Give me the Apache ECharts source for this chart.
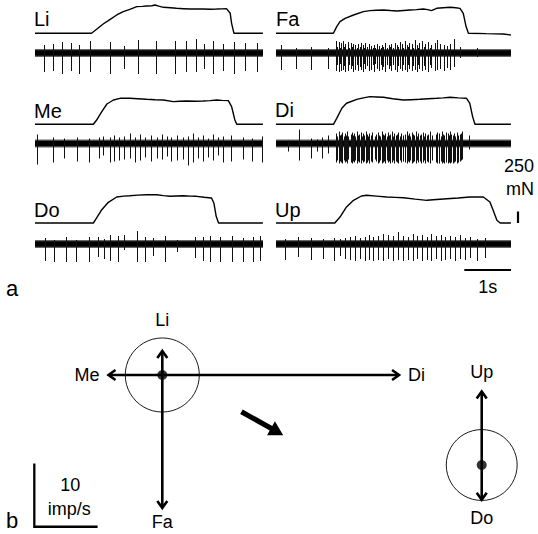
<!DOCTYPE html>
<html><head><meta charset="utf-8">
<script src="https://cdn.jsdelivr.net/npm/echarts/dist/echarts.min.js"></script>
<style>html,body{margin:0;padding:0;background:#fff}#c{width:538px;height:534px}</style>
</head><body><div id="c"></div>
<script>
// ---------------- DATA ----------------
const traceNames = ['Li', 'Fa', 'Me', 'Di', 'Do', 'Up'];
// force traces: [time (s), force (mN)]
const forceLi = [[0,0],[1.21,0],[1.32,87],[1.46,202],[1.61,304],[1.75,398],[1.89,472],[2.03,522],[2.18,580],[2.30,585],[2.39,593],[2.50,600],[2.57,615],[2.65,590],[2.75,565],[2.90,555],[3.03,543],[3.18,535],[3.32,528],[3.46,532],[3.60,528],[3.75,524],[3.89,528],[4.00,532],[4.10,537],[4.18,435],[4.21,217],[4.26,0],[4.88,0]];
const forceFa = [[0,0],[1.23,0],[1.30,146],[1.37,254],[1.48,326],[1.66,398],[1.87,472],[2.01,493],[2.15,500],[2.30,507],[2.45,495],[2.59,485],[2.73,497],[2.87,507],[3.01,515],[3.15,528],[3.25,515],[3.33,493],[3.44,543],[3.58,555],[3.73,565],[3.85,555],[3.94,543],[4.01,435],[4.07,146],[4.12,0],[4.50,-8],[4.87,-15],[5.03,-37]];
const forceMe = [[0,0],[1.25,0],[1.32,93],[1.43,276],[1.54,441],[1.68,528],[1.82,565],[2.03,565],[2.20,555],[2.39,543],[2.57,535],[2.75,528],[2.96,493],[3.10,500],[3.25,507],[3.43,500],[3.60,507],[3.75,515],[3.89,528],[4.00,520],[4.14,515],[4.21,385],[4.28,93],[4.32,0],[4.88,0]];
const forceDi = [[0,0],[1.23,0],[1.30,130],[1.41,348],[1.51,457],[1.73,543],[1.87,575],[2.01,602],[2.15,595],[2.30,587],[2.50,555],[2.73,528],[2.90,535],[3.08,543],[3.26,555],[3.44,565],[3.58,575],[3.73,587],[3.90,575],[4.08,565],[4.15,457],[4.21,167],[4.26,0],[5.03,0]];
const forceDo = [[0,0],[1.25,0],[1.32,109],[1.43,289],[1.57,450],[1.75,565],[1.90,585],[2.03,593],[2.20,605],[2.39,615],[2.61,615],[2.75,595],[2.89,580],[3.03,588],[3.18,593],[3.32,585],[3.46,580],[3.62,560],[3.78,543],[3.83,435],[3.88,146],[3.93,0],[4.88,0]];
const forceUp = [[0,0],[1.26,0],[1.37,130],[1.51,348],[1.66,493],[1.83,587],[1.94,602],[2.15,585],[2.37,565],[2.55,558],[2.73,550],[2.98,520],[3.23,493],[3.44,510],[3.66,528],[3.90,545],[4.15,565],[4.30,568],[4.44,565],[4.58,457],[4.65,276],[4.73,59],[4.80,0],[5.03,0]];

// spike trains: [time (s), upward amplitude, downward amplitude] (a.u.)
const spikesLi = [[0.193,8,19],[0.379,9,18],[0.585,11,21],[0.764,10,18],[0.949,8,21],[1.178,12,19],[1.606,11,21],[1.912,7,16],[2.212,13,21],[2.591,12,21],[2.998,12,21],[3.233,12,19],[3.441,14,19],[3.619,9,16],[3.818,12,21],[4.019,9,18],[4.261,11,21],[4.497,10,18],[4.747,10,19]];
const spikesFa = [[0.114,8,17],[0.428,5,16],[0.756,6,17],[1.113,5,16],
 [1.285,12,18],[1.31,6,12],[1.342,11,19],[1.37,5,11],[1.392,10,18],[1.435,12,17],[1.46,6,13],[1.485,9,19],[1.542,11,18],[1.57,5,12],[1.599,10,16],[1.63,6,13],[1.649,9,19],[1.699,8,17],[1.73,5,12],[1.756,9,18],[1.79,6,14],[1.813,10,17],[1.863,8,19],[1.89,5,11],[1.913,10,16],[1.95,6,13],[1.984,9,18],[2.041,7,17],[2.07,5,12],[2.091,8,19],[2.13,5,11],[2.163,9,16],[2.213,7,18],[2.24,5,12],[2.270,8,17],[2.30,6,14],[2.341,10,19],[2.38,5,12],[2.413,8,16],[2.44,6,13],[2.470,9,18],[2.51,5,12],[2.541,10,17],[2.591,8,19],[2.62,6,13],[2.648,11,16],[2.698,9,18],[2.73,5,12],[2.755,12,17],[2.805,8,19],[2.83,6,12],[2.855,10,16],[2.912,9,18],[2.94,5,13],[2.970,13,17],[3.019,8,19],[3.04,5,12],[3.069,10,16],[3.126,12,18],[3.16,6,13],[3.198,9,17],[3.255,11,19],[3.29,5,12],[3.326,8,15],[3.398,10,18],[3.448,13,17],[3.519,9,16],[3.590,8,18],[3.662,7,15],[3.733,9,17],[3.804,14,14],
 [3.95,6,5],[4.30,5,4]];
const spikesMe = [[0.050,9,21],[0.378,6,19],[0.621,5,15],[0.892,6,18],[1.163,5,19],[1.378,6,15],[1.449,7,12],[1.606,6,19],[1.692,8,18],[1.806,6,17],[1.913,7,16],[2.034,10,15],[2.141,6,19],[2.248,9,17],[2.355,6,14],[2.484,8,18],[2.605,6,15],[2.712,9,16],[2.819,7,13],[2.912,6,18],[3.034,8,17],[3.162,6,16],[3.269,7,22],[3.390,10,19],[3.497,6,15],[3.605,8,18],[3.712,5,14],[3.804,9,17],[3.926,6,12],[4.033,7,19],[4.197,8,18],[4.461,6,16],[4.640,5,18],[4.860,7,19]];
const spikesDi = [[0.257,3,8],[0.485,14,17],[0.757,5,15],[0.878,4,8],[0.985,6,15],[1.113,8,10],
 [1.29,10,19],[1.31,7,17],[1.34,12,20],[1.37,8,18],[1.39,9,19],[1.42,11,20],[1.45,7,17],[1.47,10,19],[1.50,8,18],[1.53,12,20],[1.55,7,16],
 [1.60,9,19],[1.62,11,20],[1.65,8,18],[1.68,10,19],[1.70,7,17],[1.73,12,20],[1.76,8,18],[1.78,9,19],[1.81,11,20],[1.84,7,17],[1.86,10,19],[1.89,8,18],[1.92,12,20],[1.95,9,19],[1.97,7,17],[2.00,10,20],[2.03,8,18],[2.06,11,19],
 [2.11,7,16],[2.15,9,18],[2.18,11,20],[2.21,8,19],[2.23,7,17],[2.26,12,20],[2.29,9,19],[2.31,8,18],[2.34,10,20],[2.37,7,17],[2.40,11,19],[2.42,8,18],[2.45,9,20],[2.48,12,19],[2.51,7,17],[2.53,10,20],[2.56,8,18],[2.59,9,19],[2.62,11,20],[2.65,7,17],[2.68,10,19],[2.71,8,18],
 [2.77,9,19],[2.80,12,20],[2.82,8,18],[2.85,10,19],[2.88,7,17],[2.91,11,20],[2.93,9,19],[2.96,8,18],[2.99,12,20],[3.02,7,17],[3.05,10,19],[3.08,8,18],[3.11,9,20],[3.14,11,19],[3.17,7,17],[3.20,10,20],[3.23,8,18],[3.26,9,19],[3.29,12,20],[3.33,8,17],
 [3.42,9,19],[3.45,11,20],[3.48,8,19],[3.50,10,20],[3.53,7,18],[3.55,12,20],[3.58,9,19],[3.60,8,20],[3.63,11,19],[3.65,7,18],[3.68,10,20],[3.70,8,19],[3.73,12,20],[3.75,9,19],[3.78,8,20],[3.81,10,19],[3.84,7,18],[3.87,11,20],[3.90,8,19],[3.93,9,18],[3.96,10,17],[3.98,12,16],
 [4.126,8,6]];
const spikesDo = [[0.214,6,17],[0.407,4,18],[0.664,7,18],[0.878,4,18],[1.163,7,18],[1.356,7,13],[1.478,5,15],[1.606,9,17],[1.770,8,18],[1.913,9,6],[2.177,13,18],[2.355,7,18],[2.520,6,12],[2.784,8,18],[3.034,4,8],[3.426,7,14],[3.605,7,17],[3.747,8,18],[3.961,7,18],[4.211,8,18],[4.447,6,18],[4.661,7,18],[4.818,8,17]];
const spikesUp = [[0.193,5,16],[0.478,7,13],[0.749,6,16],[1.013,5,15],[1.242,6,17],[1.370,5,12],[1.478,6,15],[1.585,7,16],[1.692,8,17],[1.799,6,15],[1.906,7,17],[1.998,9,16],[2.084,7,17],[2.191,8,16],[2.298,10,17],[2.405,9,15],[2.512,8,17],[2.619,12,16],[2.713,8,17],[2.820,7,16],[2.927,10,17],[3.013,8,15],[3.120,9,17],[3.227,7,16],[3.319,10,17],[3.426,8,15],[3.528,9,17],[3.619,7,16],[3.726,8,15],[3.833,7,17],[3.940,9,15],[4.047,6,16],[4.154,7,14],[4.297,5,17],[4.475,6,14]];
const noiseAmp = 2.8;            // half-width of background noise band (a.u.)

// panel b: discharge rate (imp/s) per force direction
const dirNamesA = ['Li', 'Me', 'Di', 'Fa'];
const dirRatesA = [3.8, 8.5, 37.4, 21.0];
const dirAnglesA = [90, 180, 0, 270];
const bgRateA = 5.85;
const dirNamesB = ['Up', 'Do'];
const dirRatesB = [11.6, 5.5];
const dirAnglesB = [90, 270];
const bgRateB = 5.6;
const resultantArrow = [12.5, -5.8, 19.1, -9.5];  // direction indicator (imp/s units)

// scale bars
const scaleForce = 250;   // mN
const scaleTime = 1;      // s
const scaleRate = 10;     // imp/s

// ---------------- LAYOUT ----------------
const FONT = '"Liberation Sans", Arial, Helvetica, sans-serif';
const PX_PER_S = 46.7, PX_PER_MN = 0.046;
const cols = [{x0: 35, w: 228}, {x0: 276, w: 235}];
const rows = [{fb: 33.3, sc: 53}, {fb: 124.3, sc: 143.5}, {fb: 223, sc: 244}];
const FMIN = -50, FMAX = 650, SMIN = -24, SMAX = 16;
const forces = [forceLi, forceFa, forceMe, forceDi, forceDo, forceUp];
const spikes = [spikesLi, spikesFa, spikesMe, spikesDi, spikesDo, spikesUp];
const labelPos = [[34, 19], [276, 19], [34, 110.5], [275, 110], [34, 209.5], [275, 209.5]];

function txt(text, x, y, size, align) {
  return {text: text, x: x, y: y, font: size + 'px ' + FONT, fill: '#000',
    textAlign: align, textVerticalAlign: 'middle', align: align, verticalAlign: 'middle'};
}

const grid = [], xAxis = [], yAxis = [], series = [], graphic = [];

for (let i = 0; i < 6; i++) {
  const r = Math.floor(i / 2), c = i % 2;
  const col = cols[c], row = rows[r];
  const tmax = col.w / PX_PER_S;
  grid.push({left: col.x0, top: row.fb - FMAX * PX_PER_MN, width: col.w, height: (FMAX - FMIN) * PX_PER_MN});
  xAxis.push({gridIndex: 2 * i, type: 'value', min: 0, max: tmax, show: false});
  yAxis.push({gridIndex: 2 * i, type: 'value', min: FMIN, max: FMAX, show: false});
  grid.push({left: col.x0, top: row.sc - SMAX, width: col.w, height: SMAX - SMIN});
  xAxis.push({gridIndex: 2 * i + 1, type: 'value', min: 0, max: tmax, show: false});
  yAxis.push({gridIndex: 2 * i + 1, type: 'value', min: SMIN, max: SMAX, show: false});

  series.push({
    type: 'line', xAxisIndex: 2 * i, yAxisIndex: 2 * i, data: forces[i],
    showSymbol: false, symbol: 'none', silent: true,
    lineStyle: {color: '#000', width: 1.4}, animation: false
  });
  series.push({
    type: 'custom', xAxisIndex: 2 * i + 1, yAxisIndex: 2 * i + 1, silent: true, animation: false,
    data: [[0, tmax, noiseAmp]],
    renderItem: function (params, api) {
      const a = api.coord([api.value(0), api.value(2)]);
      const b = api.coord([api.value(1), -api.value(2)]);
      return {type: 'group', children: [
        {type: 'rect', shape: {x: a[0], y: a[1] - 1.2, width: b[0] - a[0], height: b[1] - a[1] + 2.4}, style: {fill: '#666'}},
        {type: 'rect', shape: {x: a[0], y: a[1], width: b[0] - a[0], height: b[1] - a[1]}, style: {fill: '#000'}}
      ]};
    }
  });
  series.push({
    type: 'custom', xAxisIndex: 2 * i + 1, yAxisIndex: 2 * i + 1, silent: true, animation: false,
    data: spikes[i], encode: {x: 0, y: 1},
    renderItem: function (params, api) {
      const t = api.value(0);
      const p1 = api.coord([t, api.value(1)]);
      const p2 = api.coord([t, -api.value(2)]);
      const x = Math.round(p1[0]) + 0.5;
      return {type: 'line', shape: {x1: x, y1: p1[1], x2: x, y2: p2[1]}, style: {stroke: '#111', lineWidth: 1}};
    }
  });
  graphic.push({type: 'text', x: labelPos[i][0], y: labelPos[i][1], style: txt(traceNames[i], 0, 0, 20, 'left')});
}

// scale bars for panel a (drawn in the Up traces' coordinates)
const upForceIdx = 10, upSpikeIdx = 11;
const tmaxR = cols[1].w / PX_PER_S;
series.push({
  type: 'custom', xAxisIndex: upForceIdx, yAxisIndex: upForceIdx, silent: true, animation: false, clip: false,
  data: [[tmaxR + 0.15, scaleForce]],
  renderItem: function (params, api) {
    const b = api.coord([api.value(0), 0]);
    const t = api.coord([api.value(0), api.value(1)]);
    return {type: 'group', children: [
      {type: 'line', shape: {x1: b[0], y1: b[1], x2: t[0], y2: t[1]}, style: {stroke: '#000', lineWidth: 2.2}},
      {type: 'text', style: txt(String(api.value(1)), b[0] + 1, t[1] - 46, 18, 'center')},
      {type: 'text', style: txt('mN', b[0] + 2, t[1] - 23, 18, 'center')}
    ]};
  }
});
series.push({
  type: 'custom', xAxisIndex: upSpikeIdx, yAxisIndex: upSpikeIdx, silent: true, animation: false, clip: false,
  data: [[tmaxR - scaleTime, tmaxR, -26]],
  renderItem: function (params, api) {
    const a = api.coord([api.value(0), api.value(2)]);
    const b = api.coord([api.value(1), api.value(2)]);
    return {type: 'group', children: [
      {type: 'line', shape: {x1: a[0], y1: a[1], x2: b[0], y2: b[1]}, style: {stroke: '#000', lineWidth: 2.2}},
      {type: 'text', style: txt((api.value(1) - api.value(0)).toFixed(0) + 's', (a[0] + b[0]) / 2, a[1] + 17, 18, 'center')}
    ]};
  }
});

// ---------------- panel b grid ----------------
const PX_PER_RATE = 6.33, ORIGIN = [162.3, 375], BTOP = 290, BH = 244;
const bIdx = 12;
grid.push({left: 0, top: BTOP, width: 538, height: BH});
xAxis.push({gridIndex: bIdx, type: 'value', min: -ORIGIN[0] / PX_PER_RATE, max: (538 - ORIGIN[0]) / PX_PER_RATE, show: false});
yAxis.push({gridIndex: bIdx, type: 'value', min: -(BTOP + BH - ORIGIN[1]) / PX_PER_RATE, max: (ORIGIN[1] - BTOP) / PX_PER_RATE, show: false});

const centerA = [0, 0], centerB = [50.46, -14.22];
series.push({
  type: 'custom', xAxisIndex: bIdx, yAxisIndex: bIdx, silent: true, animation: false, clip: false,
  data: [[centerA[0], centerA[1], bgRateA], [centerB[0], centerB[1], bgRateB]],
  renderItem: function (params, api) {
    const c = api.coord([api.value(0), api.value(1)]);
    const r = api.size([api.value(2), 0])[0];
    return {type: 'circle', shape: {cx: c[0], cy: c[1], r: r}, style: {fill: 'none', stroke: '#000', lineWidth: 0.9}};
  }
});
const arrowNames = [], arrowData = [];
dirNamesA.forEach((n, k) => { arrowNames.push(n); arrowData.push([centerA[0], centerA[1], dirRatesA[k], dirAnglesA[k], bgRateA]); });
dirNamesB.forEach((n, k) => { arrowNames.push(n); arrowData.push([centerB[0], centerB[1], dirRatesB[k], dirAnglesB[k], bgRateB]); });
series.push({
  type: 'custom', xAxisIndex: bIdx, yAxisIndex: bIdx, silent: true, animation: false, clip: false,
  data: arrowData,
  renderItem: function (params, api) {
    const cx = api.value(0), cy = api.value(1), rate = api.value(2), ang = api.value(3) * Math.PI / 180, bg = api.value(4);
    const c = api.coord([cx, cy]);
    const tip = api.coord([cx + rate * Math.cos(ang), cy + rate * Math.sin(ang)]);
    const L = Math.hypot(tip[0] - c[0], tip[1] - c[1]);
    const ux = (tip[0] - c[0]) / L, uy = (tip[1] - c[1]) / L;
    const hl = 7, hw = 5;
    const h1 = [tip[0] - ux * hl - uy * hw, tip[1] - uy * hl + ux * hw];
    const h2 = [tip[0] - ux * hl + uy * hw, tip[1] - uy * hl - ux * hw];
    const bgPx = api.size([bg, 0])[0];
    let tx, ty, al;
    if (Math.abs(ux) > 0.5) {
      tx = tip[0] + ux * 9; ty = tip[1]; al = ux < 0 ? 'right' : 'left';
    } else {
      const d = Math.max(L + (uy < 0 ? 20 : 14), bgPx + 18);
      tx = c[0]; ty = c[1] + uy * d; al = 'center';
    }
    return {type: 'group', children: [
      {type: 'line', shape: {x1: c[0], y1: c[1], x2: tip[0] - ux * 1, y2: tip[1] - uy * 1}, style: {stroke: '#000', lineWidth: 2.6}},
      {type: 'polyline', shape: {points: [h1, tip, h2]}, style: {stroke: '#000', lineWidth: 2.6, fill: 'none', lineJoin: 'miter'}},
      {type: 'text', style: txt(arrowNames[params.dataIndex], tx, ty, 18, al)}
    ]};
  }
});
series.push({
  type: 'scatter', xAxisIndex: bIdx, yAxisIndex: bIdx, silent: true, animation: false,
  data: [centerA, centerB], symbol: 'circle', symbolSize: 10, itemStyle: {color: '#000'}
});
series.push({
  type: 'custom', xAxisIndex: bIdx, yAxisIndex: bIdx, silent: true, animation: false, clip: false,
  data: [resultantArrow],
  renderItem: function (params, api) {
    const a = api.coord([api.value(0), api.value(1)]);
    const b = api.coord([api.value(2), api.value(3)]);
    const L = Math.hypot(b[0] - a[0], b[1] - a[1]);
    const ux = (b[0] - a[0]) / L, uy = (b[1] - a[1]) / L;
    const hl = 14, hw = 8, sw = 2.6;
    const base = [b[0] - ux * hl, b[1] - uy * hl];
    return {type: 'polygon', shape: {points: [
        [a[0] - uy * sw, a[1] + ux * sw], [base[0] - uy * sw, base[1] + ux * sw],
        [base[0] - uy * hw, base[1] + ux * hw], b, [base[0] + uy * hw, base[1] - ux * hw],
        [base[0] + uy * sw, base[1] - ux * sw], [a[0] + uy * sw, a[1] - ux * sw]]}, style: {fill: '#000'}};
  }
});
series.push({
  type: 'custom', xAxisIndex: bIdx, yAxisIndex: bIdx, silent: true, animation: false, clip: false,
  data: [[-20.22, -23.97, scaleRate]],
  renderItem: function (params, api) {
    const x = api.value(0), y = api.value(1), s = api.value(2);
    const o = api.coord([x, y]), v = api.coord([x, y + s]), h = api.coord([x + s, y]);
    return {type: 'group', children: [
      {type: 'polyline', shape: {points: [v, o, h]}, style: {stroke: '#000', lineWidth: 2.3, fill: 'none', lineJoin: 'miter'}},
      {type: 'text', style: txt(String(s), o[0] + 36, o[1] - 42, 18, 'center')},
      {type: 'text', style: txt('imp/s', o[0] + 35, o[1] - 18, 18, 'center')}
    ]};
  }
});

graphic.push({type: 'text', x: 6, y: 288, style: txt('a', 0, 0, 22, 'left')});
graphic.push({type: 'text', x: 6, y: 520, style: txt('b', 0, 0, 22, 'left')});

const chart = echarts.init(document.getElementById('c'), null, {renderer: 'svg'});
chart.setOption({animation: false, backgroundColor: '#fff', grid, xAxis, yAxis, series, graphic});
</script></body></html>
